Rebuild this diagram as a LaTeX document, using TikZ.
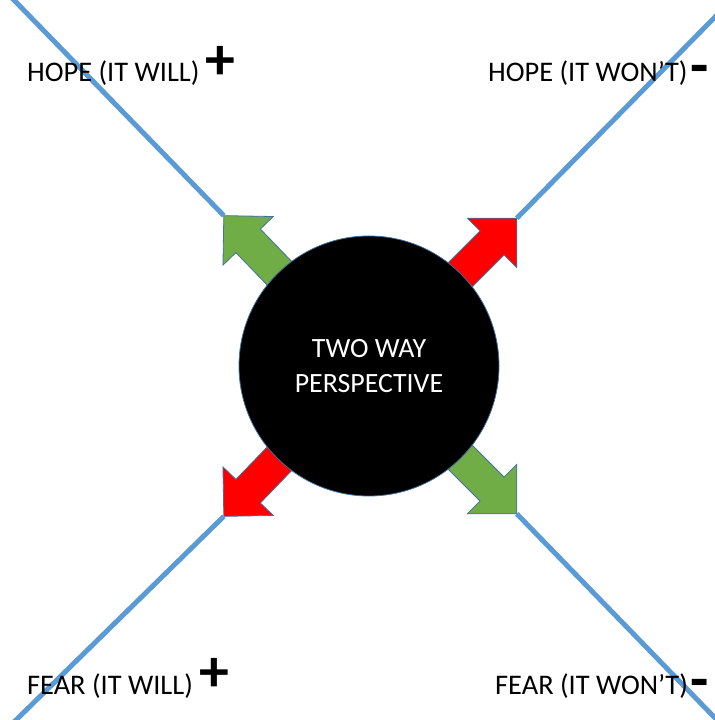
\documentclass[tikz,border=0pt]{standalone}
\usepackage{fontspec}
\setmainfont{Carlito}
\definecolor{bleuaxe}{HTML}{5B9BD5}
\definecolor{bleubord}{HTML}{41719C}
\definecolor{vertfleche}{HTML}{70AD47}
\definecolor{rougefleche}{HTML}{FF0000}

\tikzset{
  axe/.style={draw=bleuaxe, line width=5bp},
  etiquette/.style={anchor=base west, inner sep=0pt, font=\fontsize{28.5}{34}\selectfont},
  signe/.style={anchor=center, inner sep=0pt, font=\fontsize{60}{60}\selectfont\bfseries},
  fleche/.style={draw=bleubord, line width=0.8bp, fill=#1},
}

% Une grosse flèche pleine, partant du centre, avec son bout nommé
\newcommand{\grossefleche}[3]{%
  \begin{scope}[shift={(centre)}, rotate=#1]
    \draw[fleche=#2] (100,-17) -- (174,-17) -- (174,-35) -- (209,0)
      -- (174,35) -- (174,17) -- (100,17) -- cycle;
    \coordinate (#3) at (209,0);
  \end{scope}}

\begin{document}
\begin{tikzpicture}[x=1bp, y=1bp]
        % Le cadre de l'image : 715 x 720
        \clip (0,0) rectangle (715,720);

        % Le centre du cercle (placé d'abord pour les flèches)
        \coordinate (centre) at (369,354);

        % Les quatre flèches : vertes pour « + », rouges pour « - »
        \grossefleche{134}{vertfleche}{boutHV}
        \grossefleche{45}{rougefleche}{boutHW}
        \grossefleche{226}{rougefleche}{boutFV}
        \grossefleche{-45}{vertfleche}{boutFW}

        % Les bouts libres des axes, au bord de l'image
        \coordinate (coinHV) at (12,722);
        \coordinate (coinHW) at (717,705);
        \coordinate (coinFV) at (14,-2);
        \coordinate (coinFW) at (717,0);

        % Les axes bleus, du bord jusqu'au bout des flèches
        \draw[axe] (coinHV) -- (boutHV);
        \draw[axe] (coinHW) -- (boutHW);
        \draw[axe] (coinFV) -- (boutFV);
        \draw[axe] (coinFW) -- (boutFW);

        % Le disque noir par-dessus les flèches
        \node[circle, fill=black, draw=bleubord, line width=0.8bp, minimum size=260bp,
              inner sep=0pt, text=white, align=center,
              font=\fontsize{28}{35}\selectfont] (disque) at (centre) {TWO WAY\\PERSPECTIVE};

        % Les étiquettes des quatre coins
        \node[etiquette] (espoirOui) at (27,638) {HOPE (IT WILL)};
        \node[etiquette] (espoirNon) at (488,638) {HOPE (IT WON’T)};
        \node[etiquette] (peurOui) at (27,25) {FEAR (IT WILL)};
        \node[etiquette] (peurNon) at (495,25) {FEAR (IT WON’T)};

        % Les signes
        \node[signe] (plusHaut) at (220,657) {+};
        \node[signe] (moinsHaut) at (700,645) {-};
        \node[signe] (plusBas) at (214,45) {+};
        \node[signe] (moinsBas) at (700,31) {-};
\end{tikzpicture}
\end{document}
